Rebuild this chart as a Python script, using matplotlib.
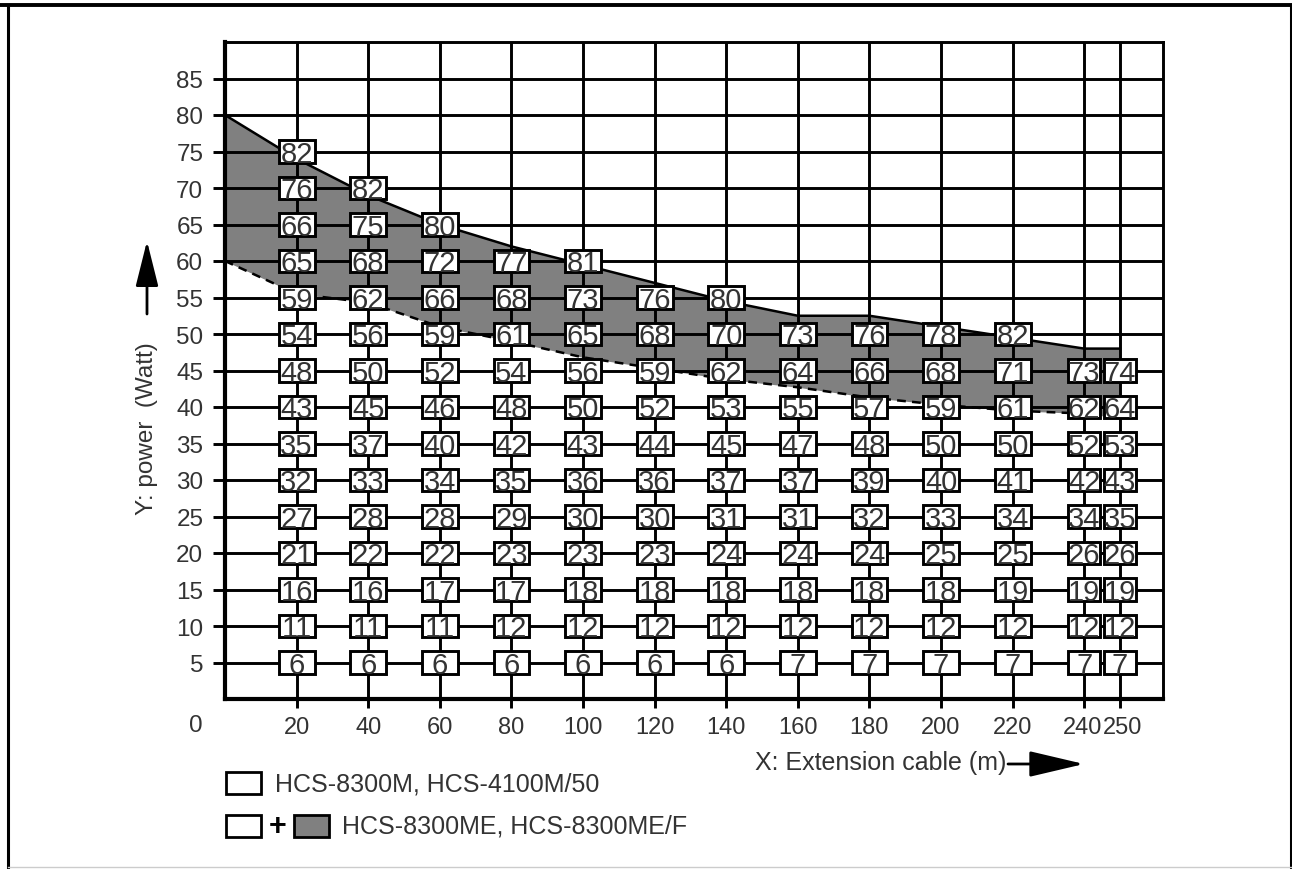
import matplotlib
matplotlib.use('Agg')
import matplotlib.pyplot as plt
from matplotlib.patches import Rectangle
from matplotlib.lines import Line2D
import matplotlib.transforms as mtransforms

plt.rcParams['font.family'] = ['Liberation Sans', 'DejaVu Sans']

# ---------------- data ----------------
cable_m = [20, 40, 60, 80, 100, 120, 140, 160, 180, 200, 220, 240, 250]
power_levels = [5, 10, 15, 20, 25, 30, 35, 40, 45, 50, 55, 60, 65, 70, 75, 80, 85]

# power values per cable length, from power level 5 W upward
col_20 = [6, 11, 16, 21, 27, 32, 35, 43, 48, 54, 59, 65, 66, 76, 82]
col_40 = [6, 11, 16, 22, 28, 33, 37, 45, 50, 56, 62, 68, 75, 82]
col_60 = [6, 11, 17, 22, 28, 34, 40, 46, 52, 59, 66, 72, 80]
col_80 = [6, 12, 17, 23, 29, 35, 42, 48, 54, 61, 68, 77]
col_100 = [6, 12, 18, 23, 30, 36, 43, 50, 56, 65, 73, 81]
col_120 = [6, 12, 18, 23, 30, 36, 44, 52, 59, 68, 76]
col_140 = [6, 12, 18, 24, 31, 37, 45, 53, 62, 70, 80]
col_160 = [7, 12, 18, 24, 31, 37, 47, 55, 64, 73]
col_180 = [7, 12, 18, 24, 32, 39, 48, 57, 66, 76]
col_200 = [7, 12, 18, 25, 33, 40, 50, 59, 68, 78]
col_220 = [7, 12, 19, 25, 34, 41, 50, 61, 71, 82]
col_240 = [7, 12, 19, 26, 34, 42, 52, 62, 73]
col_250 = [7, 12, 19, 26, 35, 43, 53, 64, 74]
columns = [col_20, col_40, col_60, col_80, col_100, col_120, col_140,
           col_160, col_180, col_200, col_220, col_240, col_250]

band_x = [0, 20, 40, 60, 80, 100, 120, 140, 160, 180, 200, 220, 240, 250]
band_upper = [80, 74, 69, 65, 62, 59.5, 57, 54.5, 52.5, 52.5, 51, 49.5, 48, 48]
band_lower = [60, 55.5, 54.3, 51, 49, 46.8, 45.3, 43.8, 42.7, 41.3, 40.3, 39.5, 39.1, 38.5]

legend_1 = 'HCS-8300M, HCS-4100M/50'
legend_2 = 'HCS-8300ME, HCS-8300ME/F'
xlabel = 'X: Extension cable (m)'
ylabel = 'Y: power  (Watt)'

# ---------------- figure ----------------
W, H = 1292, 870
fig = plt.figure(figsize=(W / 100, H / 100), dpi=100)
fig.patch.set_facecolor('white')


def fx(x):
    return x / W


def fy(y):
    return 1 - y / H


GRAY = '#808080'
TXT = '#333333'
TICK_FS = 17.5
XTICK_FS = 17
LAB_FS = 18
BOX_FS = 21

ax = fig.add_axes([fx(225), fy(700), fx(1163) - fx(225), fy(43) - fy(700)])
ax.set_xlim(0, 262)
ax.set_ylim(0, 90)
ax.set_facecolor('white')

ax.fill_between(band_x, band_lower, band_upper, color=GRAY, lw=0, zorder=0.3)
ax.plot(band_x, band_upper, color='black', lw=1.8, zorder=2)
ax.plot(band_x, band_lower, color='black', lw=1.8, ls=(0, (3.5, 2.5)), zorder=2)

ax.set_xticks(cable_m)
ax.set_yticks(power_levels)
ax.set_axisbelow(True)
ax.grid(True, color='black', lw=2.1)
ax.tick_params(axis='y', length=8.6, width=2.1, pad=7, labelsize=TICK_FS,
               labelcolor=TXT, color='black')
ax.tick_params(axis='x', length=6.5, width=2.1, pad=6, labelsize=XTICK_FS,
               labelcolor=TXT, color='black')
for side in ['left', 'bottom']:
    ax.spines[side].set_linewidth(3.0)
for side in ['top', 'right']:
    ax.spines[side].set_linewidth(2.1)
for s in ax.spines.values():
    s.set_zorder(2.6)

# nudge the two crowded last labels apart a little
fig.canvas.draw()
xlabels = ax.get_xticklabels()
xlabels[-2].set_transform(xlabels[-2].get_transform() +
                          mtransforms.ScaledTranslation(-2 / 100, 0, fig.dpi_scale_trans))
xlabels[-1].set_transform(xlabels[-1].get_transform() +
                          mtransforms.ScaledTranslation(2.5 / 100, 0, fig.dpi_scale_trans))

ax.annotate('0', xy=(0, 0), xycoords='data', xytext=(-29, -26),
            textcoords='offset pixels', ha='center', va='center',
            fontsize=TICK_FS, color=TXT)

# boxes
bh = 3.1
txt_tr = mtransforms.offset_copy(ax.transData, fig=fig, y=-0.358 * BOX_FS, units='points')
for i, (x, vals) in enumerate(zip(cable_m, columns)):
    bw = 10.0 if i < len(cable_m) - 2 else 9.0
    for level, v in zip(power_levels, vals):
        ax.add_patch(Rectangle((x - bw / 2, level - bh / 2), bw, bh,
                               facecolor='white', edgecolor='black', lw=2.1, zorder=3))
        ax.text(x, level, str(v), transform=txt_tr, ha='center', va='baseline',
                fontsize=BOX_FS, color=TXT, zorder=4)

# axis labels with arrows
fig.text(fx(147), fy(429), ylabel, rotation=90, ha='center', va='center',
         fontsize=17.5, color=TXT)
fig.text(fx(755), fy(763), xlabel, ha='left', va='center', fontsize=LAB_FS, color=TXT)

ax.annotate('', xy=(147, H - 242), xytext=(147, H - 315), xycoords='figure pixels',
            textcoords='figure pixels',
            arrowprops=dict(arrowstyle='-|>,head_length=1.4,head_width=0.35',
                            mutation_scale=20, lw=2.0, color='black',
                            shrinkA=0, shrinkB=0))
ax.annotate('', xy=(1084, H - 765), xytext=(1008, H - 765), xycoords='figure pixels',
            textcoords='figure pixels',
            arrowprops=dict(arrowstyle='-|>,head_length=1.7,head_width=0.4',
                            mutation_scale=20, lw=2.0, color='black',
                            shrinkA=0, shrinkB=0))

# legend
def fig_rect(x0, y0, x1, y1, fc):
    fig.add_artist(Rectangle((fx(x0), fy(y1)), fx(x1) - fx(x0), fy(y0) - fy(y1),
                             transform=fig.transFigure, facecolor=fc,
                             edgecolor='black', lw=2.0))


fig_rect(226, 773, 261, 795, 'white')
fig.text(fx(275), fy(785), legend_1, ha='left', va='center', fontsize=LAB_FS, color=TXT)
fig_rect(226, 816, 261, 838, 'white')
fig.text(fx(278), fy(827), '+', ha='center', va='center', fontsize=22,
         fontweight='bold', color='black')
fig_rect(294, 816, 329, 838, GRAY)
fig.text(fx(342), fy(827), legend_2, ha='left', va='center', fontsize=LAB_FS, color=TXT)

# outer frame
fig.add_artist(Line2D([0, 1], [fy(5.5), fy(5.5)], transform=fig.transFigure,
                      color='black', lw=2.8))
fig.add_artist(Line2D([fx(8), fx(8)], [0, fy(5.5)], transform=fig.transFigure,
                      color='black', lw=2.2))
fig.add_artist(Line2D([fx(1290.5), fx(1290.5)], [0, fy(5.5)], transform=fig.transFigure,
                      color='black', lw=2.2))
fig.add_artist(Line2D([fx(8), fx(1290.5)], [fy(868), fy(868)], transform=fig.transFigure,
                      color='#cccccc', lw=1.0))

fig.savefig('out.png', dpi=100, facecolor='white')
